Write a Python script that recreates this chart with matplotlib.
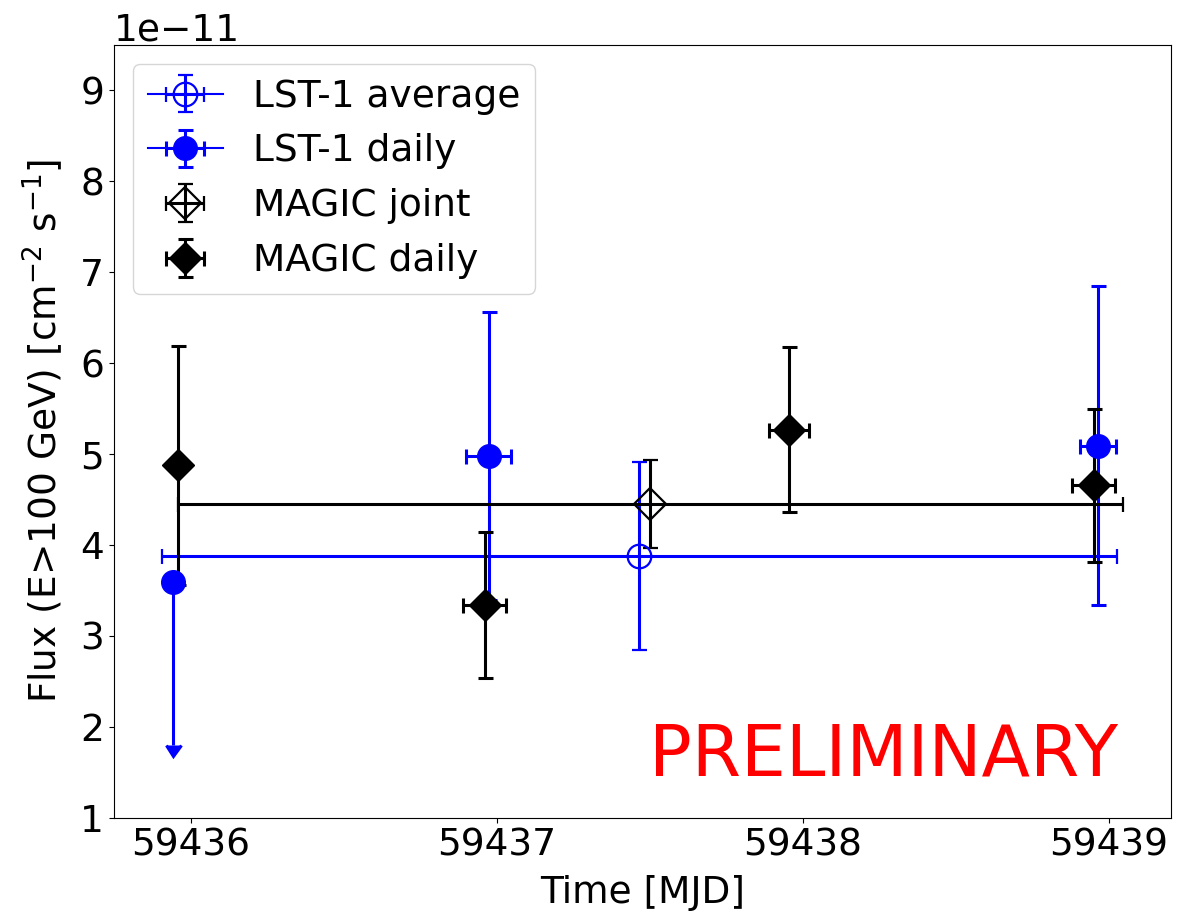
import matplotlib
matplotlib.use("Agg")
import matplotlib.pyplot as plt
import numpy as np

SCALE = 1e-11

# LST-1 average (single point)
lst_avg_t = [59437.466]
lst_avg_terr = [1.560]
lst_avg_flux = [3.880]
lst_avg_err = [1.035]

# LST-1 daily
lst_daily_t = [59435.941, 59436.973, 59438.964]
lst_daily_terr = [0.0, 0.072, 0.059]
lst_daily_flux = [3.594, 4.980, 5.090]
lst_daily_err_lo = [1.79, 1.583, 1.752]
lst_daily_err_hi = [0.0, 1.583, 1.755]
lst_daily_ul = [True, False, False]

# MAGIC joint (single point)
magic_joint_t = [59437.501]
magic_joint_terr = [1.544]
magic_joint_flux = [4.449]
magic_joint_err = [0.483]

# MAGIC daily
magic_daily_t = [59435.957, 59436.960, 59437.954, 59438.951]
magic_daily_terr = [0.0, 0.071, 0.066, 0.070]
magic_daily_flux = [4.877, 3.338, 5.270, 4.657]
magic_daily_err = [1.312, 0.805, 0.912, 0.840]

x_ticks = [59436, 59437, 59438, 59439]
y_ticks = [1, 2, 3, 4, 5, 6, 7, 8, 9]

plt.rcParams["font.size"] = 27

fig = plt.figure(figsize=(11.92, 9.16), dpi=100)
ax = fig.add_axes([0.0956, 0.1073, 0.9821 - 0.0956, 0.9509 - 0.1073])

ms = 17
lw = 2.2
cs = 5.4

def sc(v):
    return np.asarray(v, dtype=float) * SCALE

ax.errorbar(lst_avg_t, sc(lst_avg_flux), yerr=sc(lst_avg_err), xerr=lst_avg_terr,
            color="blue", marker="o", mfc="none", ms=ms, mew=1.6, elinewidth=lw, capsize=cs,
            capthick=lw, label="LST-1 average")

labelled = False
for t, te, f, elo, ehi, ul in zip(lst_daily_t, lst_daily_terr, lst_daily_flux,
                                  lst_daily_err_lo, lst_daily_err_hi, lst_daily_ul):
    lab = None
    if not ul and not labelled:
        lab = "LST-1 daily"
        labelled = True
    ax.errorbar([t], sc([f]), yerr=[sc([elo]), sc([ehi])], xerr=[te] if te > 0 else None,
                uplims=ul, color="blue", marker="o", ms=ms, elinewidth=lw,
                capsize=cs, capthick=lw, label=lab)

ax.errorbar(magic_joint_t, sc(magic_joint_flux), yerr=sc(magic_joint_err), xerr=magic_joint_terr,
            fmt="D", color="black", mfc="none", ms=ms * 0.95, mew=1.6, elinewidth=lw, capsize=cs,
            capthick=lw, label="MAGIC joint")

ax.errorbar(magic_daily_t, sc(magic_daily_flux), yerr=sc(magic_daily_err), xerr=magic_daily_terr,
            fmt="D", color="black", ms=ms * 0.95, elinewidth=lw, capsize=cs,
            capthick=lw, label="MAGIC daily")

ax.set_ylim(1 * SCALE, 9.5 * SCALE)
ax.set_xticks(x_ticks)
ax.set_yticks(sc(y_ticks))
ax.ticklabel_format(axis="x", useOffset=False)
ax.set_xlabel("Time [MJD]", labelpad=8)
ax.set_ylabel(r"Flux (E>100 GeV) [cm$^{-2}$ s$^{-1}$]", labelpad=11)
ax.legend(loc="upper left")

ax.text(0.95, 0.055, "PRELIMINARY", color="red", fontsize=51,
        ha="right", va="baseline", transform=ax.transAxes)

fig.savefig("out.png", dpi=100)
